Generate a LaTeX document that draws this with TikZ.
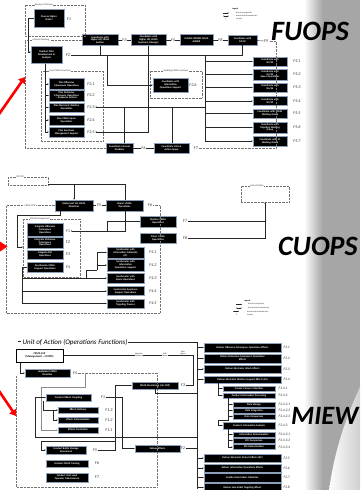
\documentclass[tikz,border=0pt]{standalone}
\usepackage{fontspec}
\setmainfont{Carlito}
\usetikzlibrary{arrows.meta,shadows}
\definecolor{bggray}{RGB}{166,166,166}
\definecolor{boxedge}{RGB}{140,160,185}
\tikzset{
 fb/.style={draw=boxedge,line width=0.45pt,fill=black,text=white,font=\fontsize{2.55}{2.8}\selectfont\bfseries,align=center,inner xsep=0pt,inner ysep=0.2pt},
 fl/.style={font=\fontsize{4.2}{4.2}\selectfont\itshape,text=black!80,inner sep=0.4pt},
 ln/.style={line width=0.4pt,draw=black!85},
 ar/.style={ln,-{Stealth[length=1.5pt,width=1.3pt]}},
 dfr/.style={draw=black!55,densely dotted,line width=0.4pt},
 frl/.style={font=\fontsize{2.4}{2.6}\selectfont,fill=white,inner sep=0.5pt,text=black!80},
 lg/.style={font=\fontsize{1.7}{1.9}\selectfont,anchor=west,inner sep=0pt},
 big/.style={font=\fontsize{28}{28}\selectfont\bfseries\itshape,anchor=base west,inner sep=0pt},
 redarr/.style={draw=red,line width=2.6pt,-{Triangle[length=6pt,width=8pt]}},
 rl/.style={fl,anchor=west,font=\fontsize{3.6}{3.6}\selectfont\itshape},
 ll/.style={font=\fontsize{1.8}{2}\selectfont,fill=white,inner sep=0.3pt,align=center},
}
\newcommand{\mybx}[6]{\node[fb,minimum width=#4pt,minimum height=#5pt,text width=#4pt] (#1) at (#2,#3) {#6};}
\newcommand{\mylb}[4]{\node[fl] (#1) at (#2,#3) {#4};}
\newcommand{\myrl}[4]{\node[rl] (#1) at (#2,#3) {#4};}
\begin{document}
\begin{tikzpicture}[x=1pt,y=-1pt]
\useasboundingbox (0,0) rectangle (360,490);
\clip (0,0) rectangle (360,490);
\fill[white] (0,0) rectangle (360,490);
% gray band
\fill[bggray] (322,0) rectangle (360,490);
\shade[left color=white,right color=bggray] (304,0) rectangle (322.5,490);
\begin{scope}
\clip (361,385) .. controls (342,425) and (333,460) .. (329,491) -- (361,491) -- cycle;
\shade[left color=white,right color=bggray!55] (328,385) rectangle (361,491);
\end{scope}

% ================= FUOPS =================
\mybx{pho}{49}{18.5}{30}{18}{Process Higher\\Orders}
\mybx{cem}{46.5}{55}{31}{17}{Conduct CEM\\Development \&\\Analysis}
\mybx{t1}{100}{40}{36}{11}{Coordinate with\\Higher HQ CEMA\\Section}
\mybx{t2}{148.5}{40}{35}{11}{Coordinate with\\Higher HQ CEMA\\Spectrum Manager}
\mybx{t3}{196.5}{40}{33}{11}{Publish OPORD CEMA\\ANNEX}
\mybx{t4}{242.5}{40}{29}{10}{Coordinate with\\G2/S2}
\mybx{i1}{119.5}{148}{27}{10}{Coordinate Internal\\Enablers}
\mybx{i2}{171.5}{148}{35}{10}{Coordinate Unit \&\\Action Space}

\draw[dfr] (25,5) rectangle (85,36);
\node[frl] (rom) at (44,5) {Receipt of Mission};
\draw[dfr] (t1.west) -- (25,40) -- (25,148) -- (i1.west);
\node[frl] (mpl) at (41,40) {Mission Planning};
\draw[dfr] (41,71) rectangle (103,141);
\node[frl] (ccf) at (60,71) {Core CEMA Functions};
\draw[dfr] (150,71) rectangle (202,98);
\node[frl] (ecf) at (176,71) {Enabling CEMA Functions};

\mybx{c1}{66.5}{84}{35}{11}{Plan Offensive\\Cyberspace Operations}
\mybx{c2}{66.5}{95.5}{35}{11}{Plan Defensive\\Cyberspace Operations\\-- Response Actions}
\mybx{c3}{66.5}{107.5}{35}{9.5}{Plan Electronic Warfare\\Operations}
\mybx{c4}{66.5}{120}{35}{10}{Plan CEMA Space\\Operations}
\mybx{c5}{66.5}{132}{35}{10}{Plan Spectrum\\Management Support}
\mybx{eio}{170.5}{85}{35}{14}{Coordinate with\\Information\\Operations Support}

\mybx{f51}{270}{61.5}{34}{9}{Coordinate with\\G2/S2}
\mybx{f52}{270}{74.5}{34}{11}{Coordinate with\\G3/S3\\Space Operations}
\mybx{f53}{270}{87.5}{34}{9}{Coordinate with\\G6/S6}
\mybx{f54}{270}{101}{34}{9}{Coordinate with\\G9/S9}
\mybx{f55}{270}{113.5}{34}{9}{Coordinate with CEMA\\Working Group}
\mybx{f56}{270}{127.5}{34}{11}{Coordinate with\\Targeting Working\\Group}
\mybx{f57}{270}{141}{34}{10}{Coordinate with IO\\Working Group}

\mylb{lf1}{69}{19}{F1}
\mylb{lf2}{68}{55}{F2}
\mylb{lf21}{91}{84}{F2.1}
\mylb{lf22}{91}{95.5}{F2.2}
\mylb{lf23}{91}{107}{F2.3}
\mylb{lf24}{91}{120}{F2.4}
\mylb{lf25}{91}{132}{F2.5}
\mylb{lf26}{193}{85}{F2.6}
\mylb{lf7}{196}{148}{F7}
\mylb{lf9}{266}{41}{F9}
\foreach \i/\y in {1/61.5,2/74.5,3/87.5,4/101,5/113.5,6/127.5,7/141}{
  \node[fl] (lf5\i) at (297,\y) {F5.\i};
}

\draw[ln] (t1) -- node[fl,fill=white] (lf3) {F3} (t2);
\draw[ln] (t2) -- node[fl,fill=white] (lf4) {F4} (t3);
\draw[ln] (t3) -- node[fl,fill=white] (lf8) {F8} (t4);
\draw[ln] (i1) -- node[fl,fill=white] (lf6) {F6} (i2);
\draw[ln] (t4) -- (lf9);
\draw[ln] (lf2.east) -- (t4.south |- lf2.east) -- (t4.south);
\draw[ln] (t1.south) -- (t1.south |- lf2.east);
\draw[ar] (t2.south) -- (t2.south |- lf25.east) -- (lf25.east);
\coordinate (k0) at (107,55);
\draw[ar] (k0) |- (eio.west);
\coordinate (j0) at (205,107);
\coordinate (j1) at (124,107);
\coordinate (j2) at (172,107);
\draw[ar] (j0) -- (lf23.east);
\draw[ln] (j1) -- (j1 |- i1.north);
\draw[ln] (j2) -- (j2 |- i2.north);
\coordinate (v5) at (205,55);
\draw[ln] (v5) -- (v5 |- f57);
\foreach \b in {f51,f52,f53,f54,f55,f56,f57}{\draw[ar] (v5 |- \b) -- (\b.west);}
\coordinate (vc) at (45,63.5);
\draw[ln] (vc) -- (vc |- c5);
\foreach \b in {c1,c2,c3,c4,c5}{\draw[ar] (vc |- \b) -- (\b.west);}
\coordinate (k1) at (28,52);
\draw[ar] (pho.west) -| (k1) -- (k1 -| cem.west);
\coordinate (k2) at (276,148);
\draw[dfr] (lf7.east) -- (k2) -- (k2 |- lf9) -- (lf9.east);

% legend top
\node[lg,font=\fontsize{2}{2}\selectfont\bfseries] (leg1) at (232,9) {Legend};
\coordinate (la1) at (223,13); \coordinate (la2) at (229,13);
\draw[ar,line width=0.25pt] (la1) -- (la2);
\node[lg] (lg11) at (236,13) {Data Flow (Single Path)};
\coordinate (lb1) at (223,16); \coordinate (lb2) at (229,16);
\draw[ln,line width=0.25pt,{Stealth[length=1.2pt]}-{Stealth[length=1.2pt]}] (lb1) -- (lb2);
\node[lg] (lg12) at (236,16) {Data Flow (Bi-Directional Path)};
\node[lg,font=\fontsize{2}{2}\selectfont\itshape] (lg13f) at (225.5,19) {F};
\node[lg] (lg13) at (236,19) {Function};

% ================= CUOPS =================
\mybx{imp}{74}{205.5}{38}{11}{Implement HQ CEMA\\Directives}
\mybx{rep}{124.5}{205.5}{37}{11}{Report CEMA\\Operations}
\mybx{mon}{158}{221.5}{36}{11}{Monitor CEMA\\Operations}
\mybx{dir}{158}{238}{36}{10}{Direct CEMA\\Operations}
\draw[dfr] (8,177) rectangle (48,185);
\node[frl] (g2c) at (20,177) {G2 COP};
\node[fl] (lc5) at (99,205.5) {F5};
\node[fl] (lc6) at (150,205.5) {F6};
\draw[dfr] (imp.west) -- (6,205.5) -- (6,313) -- (160,313) -- (160,205.5) -- (lc6.east);
\node[frl] (ccop) at (30,205.5) {CEMA COP};
\draw[dfr] (23,219) rectangle (80,277);
\node[frl] (cmg) at (40,219) {CEMA Management};
\node[dfr,draw,minimum width=48pt,minimum height=16pt] (uoa) at (265,194) {};
\node[frl] (uoal) at (257,186) {Unit of Action};

\mybx{m1}{45}{230}{36}{13}{Integrate Offensive\\Cyberspace\\Operations}
\mybx{m2}{45}{242.5}{36}{11}{Integrate Defensive\\Cyberspace\\Operations}
\mybx{m3}{45}{254.5}{36}{9}{Integrate EW\\Operations}
\mybx{m4}{45}{267}{36}{10}{Synchronize CEMA\\Support Operations}
\node[fl] (lm1) at (68,231) {F1};
\node[fl] (lm2) at (68,242.5) {F2};
\node[fl] (lm3c) at (68,254.5) {F3};
\node[fl] (lm4c) at (68,267) {F4};

\mybx{s1}{125.5}{252.5}{37}{11}{Synchronize with\\Information Collection\\(IC)}
\mybx{s2}{125.5}{265}{37}{12}{Synchronize with\\Information\\Operations Support}
\mybx{s3}{125.5}{278}{37}{10}{Synchronize with\\Space Operations}
\mybx{s4}{125.5}{291}{37}{9}{Synchronize Spectrum\\Support Operations}
\mybx{s5}{125.5}{303.5}{37}{9}{Synchronize with\\Targeting Process}
\foreach \i/\y in {1/252.5,2/265,3/278,4/291,5/303.5}{
  \node[fl] (ls\i) at (153,\y) {F4.\i};
}
\node[fl] (lc7) at (185,221.5) {F7};
\node[fl] (lc8) at (185,238) {F8};

\draw[ln] (imp) -- (lc5) -- (rep);
\coordinate (g1) at (48,184.5);
\coordinate (g2) at (125,184.5);
\draw[ln] (g1) -- (g2) -- (g2 |- rep.north);
\draw[ar] (imp.north |- g1) -- (imp.north);
\coordinate (g3) at (60,215);
\coordinate (g4) at (17,247);
\draw[ar] (g3 |- imp.south) -- (g3) -| (g4) -- (g4 -| 23,0);
\coordinate (g5) at (125,231);
\draw[ar] (g5 |- rep.south) -- (g5) -- (lm1.east);
\coordinate (g6) at (107,231);
\draw[ln] (mon.west) -| (g6);
\draw[ln] (lc7.east) -- (lc7.east -| uoa.south);
\draw[ar] (lc8.east) -| (uoa.south);
\coordinate (h1) at (22,267);
\draw[ln] (m4.west) -- (h1) -- (h1 |- s5);
\coordinate (h2) at (86,278);
\draw[ar] (h1 |- s3) -- (s3.west);
\coordinate (h3) at (97,270);
\draw[ln] (h2) -- (h2 |- h3) -- (h3);
\draw[ln] (h3) -- (h3 |- s1);
\draw[ar] (h3 |- s1) -- (s1.west);
\draw[ar] (h3 |- s2) -- (s2.west);
\draw[ar] (h1 |- s4) -- (s4.west);
\draw[ar] (h1 |- s5) -- (s5.west);

% legend middle
\node[lg,font=\fontsize{2}{2}\selectfont\bfseries] (leg2) at (244,301) {Legend};
\coordinate (lc1) at (236,304.5); \coordinate (lc2) at (242,304.5);
\draw[ar,line width=0.25pt] (lc1) -- (lc2);
\node[lg] (lg21) at (248,304.5) {Data Flow (Single Path)};
\coordinate (ld1) at (236,308); \coordinate (ld2) at (242,308);
\draw[ln,line width=0.25pt,{Stealth[length=1.2pt]}-{Stealth[length=1.2pt]}] (ld1) -- (ld2);
\node[lg] (lg22) at (248,308) {Data Flow (Bi-Directional Path)};
\coordinate (le1) at (233,311.5); \coordinate (le2) at (239,311.5);
\draw[ln,line width=0.25pt,{Stealth[length=1.2pt]}-{Stealth[length=1.2pt]}] (le1) -- (le2);
\node[lg] (lg23) at (247,311.5) {Data Flow (Bi-Directional Path)};
\node[lg,font=\fontsize{2}{2}\selectfont\itshape] (lg24f) at (236,315) {F};
\node[lg] (lg24) at (247,315) {Function};

% ================= MIEW =================
\node[font=\fontsize{7}{7}\selectfont\itshape,anchor=west,inner sep=0.5pt] (ttl) at (22,342.5) {Unit of Action (Operations Functions)};
\coordinate (tk1) at (18,341); \coordinate (tk2) at (21,341);
\draw[ln] (tk1) -- (tk2);
\node[draw=black,line width=0.6pt,fill=white,font=\fontsize{2.8}{3.2}\selectfont\bfseries\itshape,align=center,minimum width=47pt,minimum height=13pt,inner sep=0.5pt,drop shadow={shadow xshift=0.9pt,shadow yshift=-0.9pt,fill=black!75}] (cell) at (39.5,355.5) {CEMA Cell\\(Management -- CUOPS)};

\mybx{imp2}{47.5}{373}{45}{7.5}{Implement CEMA\\Direction}
\mybx{cet}{68.5}{397.5}{45}{7}{Conduct Effects Targeting}
\mybx{e1}{78}{410}{40}{6}{Effects Delivery}
\mybx{e2}{78}{420}{40}{6}{Effects Determination}
\mybx{e3}{78}{430}{40}{6}{Effects Correlation}
\mybx{bda}{66}{450}{40}{8}{Conduct Battle Damage\\Assessment}
\mybx{trn}{67}{463.5}{42}{7}{Conduct CEMA Training}
\mybx{mnt}{67}{477.5}{42}{9}{Conduct Unit Level\\Operator Maintenance}
\mybx{mon3}{155}{385.5}{46}{7}{CEMA Monitoring (UA COP)}
\mybx{def}{157.5}{448.5}{45}{7}{Deliver Effects}

\node[fl] (lm4) at (75,373) {F4};
\node[fl] (lmf1) at (103,397.5) {F1};
\node[fl] (lm13) at (109,410) {F1.3};
\node[fl] (lm12) at (109,420) {F1.2};
\node[fl] (lm11) at (109,430) {F1.1};
\node[fl] (lm5) at (95,450) {F5};
\node[fl] (lm6) at (97,463.5) {F6};
\node[fl] (lm7) at (97,477.5) {F7};
\node[fl] (lm3) at (183,385.5) {F3};
\node[fl] (lm2) at (183,448.5) {F2};

\draw[dfr] (lm4.east) -- (157,373) -- (157,487) -- (16,487) -- (16,376);
\coordinate (k3) at (20,362.5);
\draw[ar] (k3) |- (imp2.west);
\coordinate (k4) at (85,373);
\coordinate (k4b) at (41,387);
\draw[ln,draw=black!45] (k4) |- (k4b) -- (k4b |- e3);
\draw[ar,draw=black!45] (k4b |- e3) -- (e3.west);
\coordinate (k5) at (193,355.5);
\draw[ln] (cell.east) -- (k5) |- (lm3.east);
\node[ll] (lcr) at (139,355.5) {Collection/\\EA Request};
\node[ll] (lsr) at (165,355.5) {SPOT\\Report};
\node[ll] (lbr) at (183,353) {BDA\\Report};
\coordinate (k6) at (35,437);
\draw[ar] (k6) |- (cet.west);
\coordinate (rc) at (197,342.5);
\draw[ln] (k6) -- (k6 -| rc);
\draw[ln] (ttl.east) -- (rc) -- ++(0,146);
\coordinate (k7) at (43,410);
\draw[ar] (k7 |- cet.south) -- (k7) -- (e1.west);
\coordinate (k8) at (53,410);
\draw[ar] (k8) |- (e2.west);
\coordinate (k9) at (122,397.5);
\draw[ar] (lmf1.east) -- (k9) |- (def.west);
\coordinate (k10) at (115,450);
\draw[ar] (lm5.east) -- (k10) |- (mon3.west);
\coordinate (k11) at (41,441);
\draw[ln] (k10 |- k11) -- (k11);
\draw[ar] (k11) |- (bda.west);
\draw[ln] (lm2.east) -- (lm2.east -| rc);
\draw[ln] (mon3.south) -- ++(0,4) -- ++(42,0);

% right column
\mybx{r1}{242.5}{347.5}{77}{8.5}{Deliver Offensive Cyberspace Operations Effects}
\mybx{r2}{242.5}{358.5}{77}{9}{Deliver Defensive Cyberspace Operations\\Effects}
\mybx{r3}{242.5}{369}{77}{8}{Deliver Electronic Attack Effects}
\mybx{r4}{242.5}{379.5}{77}{7}{Deliver Electronic Warfare Support Effects (ES)}
\mybx{r41}{249}{388.5}{52}{5}{Conduct Sensor Collection}
\mybx{r42}{249}{395.5}{52}{5}{Conduct Information Processing}
\mybx{r421}{254}{404.5}{42}{5}{Data Storage}
\mybx{r422}{254}{410.5}{42}{5}{Data Integration}
\mybx{r423}{254}{416.5}{42}{5}{Data Comparison}
\mybx{r43}{249}{425.5}{52}{6.5}{Conduct Information Analysis}
\mybx{r431}{254}{434.5}{42}{5}{Information Determination}
\mybx{r432}{254}{440.5}{42}{5}{EOI Comparison}
\mybx{r433}{254}{447}{42}{5}{EOI Determination}
\mybx{r5}{242.5}{458}{77}{8}{Deliver Electronic Protect Effects (EP)}
\mybx{r6}{242.5}{468}{77}{8}{Deliver Information Operations Effects}
\mybx{r7}{242.5}{477.5}{77}{9}{Enable Information Collection}
\mybx{r8}{242.5}{487.5}{77}{8}{Deliver Non-lethal Targeting Effects}

\foreach \b in {r1,r2,r3,r4,r5,r6,r7,r8}{\draw[ar] (rc |- \b) -- (\b.west);}
\coordinate (q1) at (218,383);
\draw[ln] (q1) -- (q1 |- r42);
\draw[ar] (q1 |- r41) -- (r41.west);
\draw[ar] (q1 |- r42) -- (r42.west);
\coordinate (q2) at (228,398);
\coordinate (q3) at (228,420);
\draw[ln] (q2) -- (q3) -- (q3 -| q1);
\foreach \b in {r421,r422,r423}{\draw[ar] (q2 |- \b) -- (\b.west);}
\draw[ar] (q3 -| q1) |- (r43.west);
\coordinate (q4) at (228,429);
\draw[ln] (q4) -- (q4 |- r433);
\foreach \b in {r431,r432,r433}{\draw[ar] (q4 |- \b) -- (\b.west);}

\myrl{lr1}{283}{347.5}{F2.1}
\myrl{lr2}{283}{358.5}{F2.2}
\myrl{lr3}{283}{369}{F2.3}
\myrl{lr4}{283}{379.5}{F2.4}
\myrl{lr41}{278}{388.5}{F2.4.1}
\myrl{lr42}{278}{395.5}{F2.4.2}
\myrl{lr421}{278}{404.5}{F2.4.2.1}
\myrl{lr422}{278}{410.5}{F2.4.2.2}
\myrl{lr423}{278}{416.5}{F2.4.2.3}
\myrl{lr43}{278}{425.5}{F2.4.3}
\myrl{lr431}{278}{434.5}{F2.4.3.1}
\myrl{lr432}{278}{440.5}{F2.4.3.2}
\myrl{lr433}{278}{447}{F2.4.3.3}
\myrl{lr5}{283}{458}{F2.5}
\myrl{lr6}{283}{468}{F2.6}
\myrl{lr7}{283}{477.5}{F2.7}
\myrl{lr8}{283}{487.5}{F2.8}

% big titles
\node[big] (tfu) at (271,40) {FUOPS};
\node[big] (tcu) at (278,255) {CUOPS};
\node[big,font=\fontsize{26.5}{26.5}\selectfont\bfseries\itshape] (tmi) at (291,424.5) {MIEW};

% red arrows
\coordinate (ra1) at (-3,117); \coordinate (ra2) at (25,77);
\draw[redarr] (ra1) -- (ra2);
\fill[red] (0,241.5) -- (7.5,246.5) -- (0,251.5) -- cycle;
\coordinate (rb1) at (-3,388); \coordinate (rb2) at (16,416);
\draw[redarr] (rb1) -- (rb2);
\end{tikzpicture}
\end{document}
